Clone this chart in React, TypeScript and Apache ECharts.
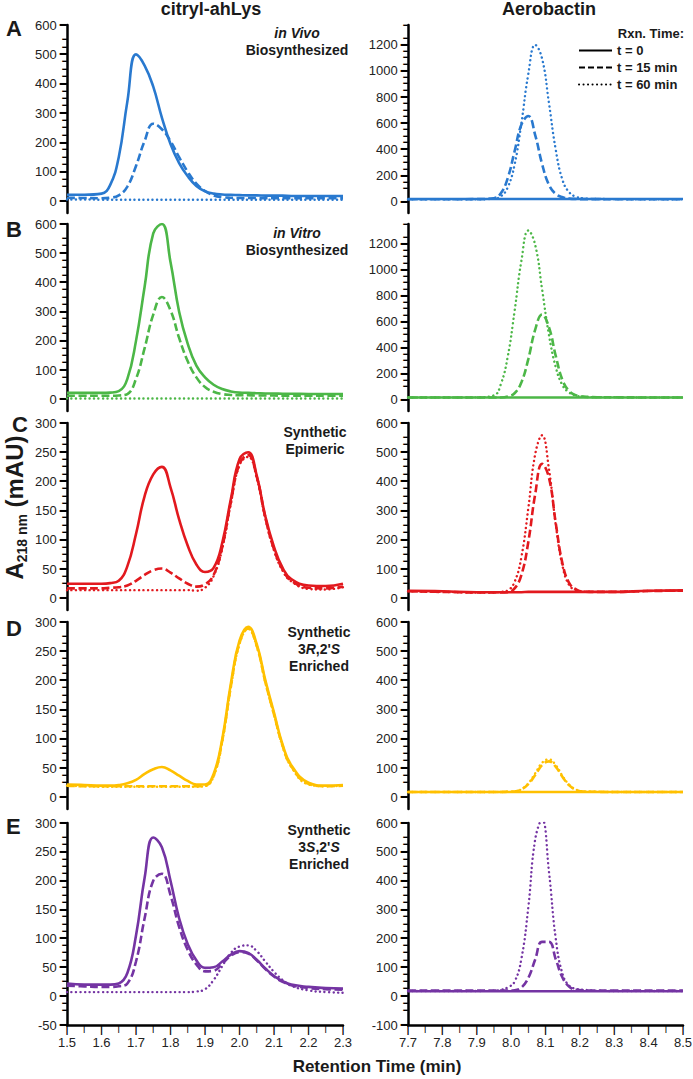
import React, { useEffect, useRef } from "react";
import * as echarts from "echarts";

// ---------- data ----------
const X_LEFT = [1.5, 1.55, 1.6, 1.625, 1.65, 1.675, 1.7, 1.725, 1.75, 1.775, 1.8, 1.825, 1.85, 1.875, 1.9, 1.925, 1.95, 1.975, 2.0, 2.025, 2.05, 2.075, 2.1, 2.125, 2.15, 2.2, 2.25, 2.3];
const X_RIGHT = [7.7, 7.8, 7.9, 7.95, 7.97, 7.99, 8.01, 8.03, 8.05, 8.07, 8.09, 8.11, 8.13, 8.15, 8.17, 8.19, 8.21, 8.25, 8.3, 8.4, 8.5];

// citryl-ahLys (left column)
const A_CIT_T0 = [22, 22, 26, 55, 150, 340, 500, 462, 390, 285, 195, 130, 85, 52, 34, 26, 23, 22, 21, 20, 20, 19, 19, 19, 18, 18, 18, 18];
const A_CIT_T15 = [12, 11, 10, 12, 20, 50, 120, 205, 264, 245, 205, 150, 100, 60, 35, 20, 14, 12, 11, 11, 11, 10, 10, 10, 10, 10, 10, 10];
const A_CIT_T60 = [6, 6, 5, 5, 5, 5, 5, 5, 5, 5, 5, 5, 5, 5, 5, 5, 5, 5, 5, 5, 5, 5, 5, 5, 5, 5, 5, 5];
const B_CIT_T0 = [22, 22, 22, 23, 28, 70, 200, 385, 568, 600, 470, 300, 190, 115, 75, 50, 35, 27, 23, 22, 21, 20, 20, 19, 19, 18, 18, 18];
const B_CIT_T15 = [12, 12, 12, 12, 13, 18, 70, 175, 290, 350, 305, 210, 130, 75, 42, 26, 18, 15, 14, 14, 13, 13, 13, 12, 12, 12, 12, 12];
const B_CIT_T60 = [3, 3, 3, 3, 3, 3, 3, 3, 3, 3, 3, 3, 3, 3, 3, 3, 3, 3, 3, 3, 3, 3, 3, 3, 3, 3, 3, 3];
const C_CIT_T0 = [25, 25, 25, 26, 30, 55, 110, 175, 212, 225, 190, 135, 90, 58, 45, 52, 95, 170, 238, 250, 210, 140, 88, 52, 33, 22, 21, 25];
const C_CIT_T15 = [17, 17, 17, 18, 19, 22, 30, 40, 48, 51, 44, 34, 25, 20, 24, 40, 88, 165, 230, 245, 208, 138, 84, 49, 30, 18, 17, 20];
const C_CIT_T60 = [14, 14, 14, 14, 14, 14, 14, 14, 14, 14, 14, 14, 14, 13, 18, 38, 85, 162, 228, 242, 206, 136, 82, 47, 29, 16, 15, 19];
const D_CIT_T0 = [22, 21, 20, 20, 21, 24, 30, 40, 48, 52, 46, 37, 28, 22, 22, 40, 100, 195, 268, 292, 262, 200, 145, 90, 55, 25, 20, 21];
const D_CIT_T15 = [20, 19, 19, 19, 19, 19, 19, 19, 19, 19, 19, 19, 19, 19, 20, 37, 97, 190, 264, 289, 259, 197, 142, 88, 53, 23, 19, 20];
const D_CIT_T60 = [20, 19, 18, 18, 18, 18, 18, 18, 18, 18, 18, 18, 18, 18, 19, 36, 95, 188, 262, 288, 258, 196, 141, 87, 52, 22, 19, 20];
const E_CIT_T0 = [22, 20, 20, 20, 22, 40, 105, 205, 275, 258, 200, 135, 90, 62, 49, 50, 60, 72, 78, 75, 63, 48, 35, 26, 20, 16, 14, 13];
const E_CIT_T15 = [18, 17, 16, 16, 17, 22, 60, 135, 200, 212, 175, 120, 80, 55, 43, 44, 56, 70, 76, 74, 62, 47, 34, 25, 19, 14, 12, 11];
const E_CIT_T60 = [7, 7, 7, 7, 7, 7, 7, 7, 7, 7, 7, 7, 7, 8, 12, 28, 52, 75, 86, 88, 78, 60, 42, 28, 18, 10, 7, 6];

// Aerobactin (right column)
const A_AER_T0 = [22, 22, 22, 22, 22, 22, 22, 22, 22, 22, 22, 22, 22, 22, 22, 22, 22, 22, 22, 22, 22];
const A_AER_T15 = [20, 20, 21, 28, 65, 180, 385, 590, 655, 510, 290, 130, 60, 35, 25, 22, 21, 21, 20, 20, 20];
const A_AER_T60 = [20, 20, 20, 24, 42, 110, 284, 602, 976, 1198, 1094, 755, 395, 163, 70, 38, 27, 22, 21, 20, 20];
const B_AER_T0 = [19, 19, 19, 19, 19, 19, 19, 19, 19, 19, 19, 19, 19, 19, 19, 19, 19, 19, 19, 19, 19];
const B_AER_T15 = [19, 19, 19, 19, 19, 26, 51, 135, 313, 539, 655, 558, 336, 148, 65, 35, 25, 21, 20, 19, 19];
const B_AER_T60 = [19, 19, 20, 35, 120, 330, 680, 1070, 1300, 1190, 850, 500, 250, 110, 55, 32, 24, 21, 20, 19, 19];
const C_AER_T0 = [26, 24, 21, 21, 21, 21, 21, 21, 22, 22, 22, 22, 22, 22, 22, 22, 22, 22, 22, 26, 27];
const C_AER_T15 = [24, 22, 20, 20, 20, 21, 34, 80, 193, 356, 460, 413, 256, 116, 50, 30, 23, 22, 22, 25, 26];
const C_AER_T60 = [24, 22, 20, 20, 22, 27, 56, 142, 308, 493, 558, 443, 251, 108, 43, 28, 23, 22, 22, 25, 26];
const D_AER_T0 = [18, 18, 18, 18, 18, 18, 18, 18, 18, 18, 18, 18, 18, 18, 18, 18, 18, 18, 18, 18, 18];
const D_AER_T15 = [18, 18, 18, 18, 18, 19, 20, 27, 45, 76, 110, 123, 104, 69, 40, 25, 20, 19, 18, 18, 18];
const D_AER_T60 = [18, 18, 18, 18, 18, 19, 20, 28, 48, 82, 118, 130, 110, 72, 42, 26, 20, 19, 18, 18, 18];
const E_AER_T0 = [17, 17, 17, 17, 17, 17, 17, 17, 17, 17, 17, 17, 17, 17, 17, 17, 17, 17, 17, 17, 17];
const E_AER_T15 = [19, 19, 19, 19, 19, 19, 20, 30, 63, 127, 188, 188, 127, 63, 32, 22, 20, 19, 19, 19, 19];
const E_AER_T60 = [18, 18, 18, 19, 22, 30, 50, 130, 308, 543, 612, 432, 198, 75, 35, 25, 22, 19, 18, 18, 18];

// tick labels
const TICKS_0_600 = [0, 100, 200, 300, 400, 500, 600];
const TICKS_0_300 = [0, 50, 100, 150, 200, 250, 300];
const TICKS_N50_300 = [-50, 0, 50, 100, 150, 200, 250, 300];
const TICKS_0_1200 = [0, 200, 400, 600, 800, 1000, 1200];
const TICKS_N100_600 = [-100, 0, 100, 200, 300, 400, 500, 600];

const LEGEND_NAMES = ["t = 0", "t = 15 min", "t = 60 min"];

// ---------- styling / layout ----------
const FONT = "'Liberation Sans', Arial, Helvetica, sans-serif";
const NARROW = "'Liberation Sans Narrow', 'Liberation Sans', Arial, sans-serif";
const GLYPH_FONT = "'DejaVu Sans', 'Liberation Sans', sans-serif";
const INK = "#1a1a1a";
const BLUE = "#2979CF";
const GREEN = "#4CB747";
const RED = "#E2191E";
const GOLD = "#FFC000";
const PURPLE = "#7434A3";

const ROW_TOP = [25, 224, 423, 622, 823];
const ROW_H = [188, 187, 187, 187, 202];
const COL_LEFT = [67, 408];
const COL_W = [276, 275];
const X_RANGE = [
  [1.5, 2.3],
  [7.7, 8.5],
];

const PANELS = [
  { row: 0, col: 0, color: BLUE, t0: A_CIT_T0, t15: A_CIT_T15, t60: A_CIT_T60, yMin: -40, yMax: 600, ticks: TICKS_0_600 },
  { row: 0, col: 1, color: BLUE, t0: A_AER_T0, t15: A_AER_T15, t60: A_AER_T60, yMin: -85, yMax: 1350, ticks: TICKS_0_1200 },
  { row: 1, col: 0, color: GREEN, t0: B_CIT_T0, t15: B_CIT_T15, t60: B_CIT_T60, yMin: -40, yMax: 600, ticks: TICKS_0_600 },
  { row: 1, col: 1, color: GREEN, t0: B_AER_T0, t15: B_AER_T15, t60: B_AER_T60, yMin: -85, yMax: 1350, ticks: TICKS_0_1200 },
  { row: 2, col: 0, color: RED, t0: C_CIT_T0, t15: C_CIT_T15, t60: C_CIT_T60, yMin: -20, yMax: 300, ticks: TICKS_0_300 },
  { row: 2, col: 1, color: RED, t0: C_AER_T0, t15: C_AER_T15, t60: C_AER_T60, yMin: -40, yMax: 600, ticks: TICKS_0_600 },
  { row: 3, col: 0, color: GOLD, t0: D_CIT_T0, t15: D_CIT_T15, t60: D_CIT_T60, yMin: -20, yMax: 300, ticks: TICKS_0_300 },
  { row: 3, col: 1, color: GOLD, t0: D_AER_T0, t15: D_AER_T15, t60: D_AER_T60, yMin: -40, yMax: 600, ticks: TICKS_0_600 },
  { row: 4, col: 0, color: PURPLE, t0: E_CIT_T0, t15: E_CIT_T15, t60: E_CIT_T60, yMin: -50, yMax: 300, ticks: TICKS_N50_300 },
  { row: 4, col: 1, color: PURPLE, t0: E_AER_T0, t15: E_AER_T15, t60: E_AER_T60, yMin: -100, yMax: 600, ticks: TICKS_N100_600 },
];

const LINE_STYLES: any[] = [
  { type: "solid", width: 2.6, cap: "butt" },
  { type: [8, 3.5], width: 2.6, cap: "butt" },
  { type: [0.1, 4.4], width: 2.4, cap: "round" },
];

function txt(x: number, y: number, text: string, font: string, align: string, valign: string) {
  return {
    type: "text",
    x,
    y,
    silent: true,
    style: { text, font, fill: INK, textAlign: align, textVerticalAlign: valign },
  };
}

function annotation(x: number, y: number, text: string) {
  const base = { fontSize: 14, fontWeight: "bold", fontFamily: FONT, lineHeight: 17, fill: INK };
  return {
    type: "text",
    x,
    y,
    silent: true,
    style: {
      text,
      fill: INK,
      font: `bold 14px ${FONT}`,
      textAlign: "center",
      textVerticalAlign: "top",
      rich: { b: { ...base }, bi: { ...base, fontStyle: "italic" } },
    },
  };
}

const TEXT_ELEMENTS: any[] = [
  txt(211, 9, "citryl-ahLys", `bold 18px ${FONT}`, "center", "middle"),
  txt(549, 9, "Aerobactin", `bold 18px ${FONT}`, "center", "middle"),
  txt(6, 28, "A", `bold 22px ${FONT}`, "left", "middle"),
  txt(6, 229, "B", `bold 22px ${FONT}`, "left", "middle"),
  txt(12, 424, "C", `bold 22px ${FONT}`, "left", "middle"),
  txt(6, 628, "D", `bold 22px ${FONT}`, "left", "middle"),
  txt(6, 826, "E", `bold 22px ${FONT}`, "left", "middle"),
  txt(684, 33, "Rxn. Time:", `bold 13px ${FONT}`, "right", "middle"),
  txt(377, 1066, "Retention Time (min)", `bold 17px ${FONT}`, "center", "middle"),
  annotation(297, 24, "{bi|in Vivo}\n{b|Biosynthesized}"),
  annotation(297, 224, "{bi|in Vitro}\n{b|Biosynthesized}"),
  annotation(315, 423, "{b|Synthetic}\n{b|Epimeric}"),
  annotation(319, 623, "{b|Synthetic}\n{b|3}{bi|R}{b|,2'}{bi|S}\n{b|Enriched}"),
  annotation(319, 821, "{b|Synthetic}\n{b|3}{bi|S}{b|,2'}{bi|S}\n{b|Enriched}"),
];

const HIDDEN_AXIS = { show: false, min: 0, max: 1 };
const BARE = {
  axisLine: { show: false, onZero: false },
  axisTick: { show: false },
  axisLabel: { show: false },
  splitLine: { show: false },
  minorTick: { show: false },
  minorSplitLine: { show: false },
};

// tick marks drawn as glyphs inside the axis labels
const Y_TICK_RICH = {
  n: { fontSize: 13, fontFamily: FONT, color: "#222" },
  sp: { width: 3 },
  t: { fontSize: 12, fontFamily: GLYPH_FONT, color: "#000" },
  m: { fontSize: 8, fontFamily: GLYPH_FONT, color: "#000" },
};
const X_TICK_RICH = {
  t: { fontSize: 9, fontWeight: "bold", fontFamily: FONT, color: "#000", lineHeight: 9 },
  m: { fontSize: 6.5, fontWeight: "bold", fontFamily: FONT, color: "#000", lineHeight: 7 },
};

function buildOption(): any {
  const grid: any[] = [];
  const xAxis: any[] = [];
  const yAxis: any[] = [];
  const series: any[] = [];
  const dataGrid: number[] = [];

  const addGrid = (g: any, xa: any, ya: any) => {
    const gi = grid.length;
    grid.push({ outerBoundsMode: "none", ...g });
    xAxis.push({ type: "value", gridIndex: gi, ...xa });
    yAxis.push({ type: "value", gridIndex: gi, ...ya });
    return gi;
  };

  PANELS.forEach((p) => {
    const isBottom = p.row === 4;
    const isC = p.row === 2 && p.col === 0;
    const left = COL_LEFT[p.col];
    const top = ROW_TOP[p.row];
    const width = COL_W[p.col];
    const height = ROW_H[p.row];
    const [x0, x1] = X_RANGE[p.col];

    const gi = addGrid(
      { left, top, width, height },
      {
        min: x0,
        max: x1,
        interval: 0.1,
        show: isBottom,
        ...BARE,
        axisLine: { show: true, onZero: false, lineStyle: { color: "#000", width: 2.5 } },
        axisLabel: { formatter: (v: number) => v.toFixed(1), fontSize: 13, fontFamily: NARROW, color: "#222", margin: 11 },
      },
      {
        min: p.yMin,
        max: p.yMax,
        ...BARE,
        axisLine: { show: true, onZero: false, lineStyle: { color: "#000", width: 2.5 } },
        ...(isC
          ? {
              name: "{a|A}{s|218 nm}{a| (mAU)}",
              nameLocation: "middle",
              nameRotate: 90,
              nameGap: 38,
              nameMoveOverlap: false,
              nameTextStyle: {
                padding: [0, 0, 0, 18],
                rich: {
                  a: { fontSize: 24, fontWeight: "bold", fontFamily: FONT, color: INK, lineHeight: 30 },
                  s: { fontSize: 14, fontWeight: "bold", fontFamily: FONT, color: INK, lineHeight: 12, verticalAlign: "bottom" },
                },
              },
            }
          : {}),
      }
    );
    dataGrid.push(gi);

    const xs = p.col === 0 ? X_LEFT : X_RIGHT;
    [p.t0, p.t15, p.t60].forEach((vals, k) => {
      const ls = LINE_STYLES[k];
      series.push({
        name: `${"ABCDE"[p.row]}-${p.col === 0 ? "citryl-ahLys" : "Aerobactin"}-${LEGEND_NAMES[k]}`,
        type: "line",
        xAxisIndex: gi,
        yAxisIndex: gi,
        data: xs.map((x, j) => [x, vals[j]]),
        symbol: "none",
        showSymbol: false,
        smooth: 0.45,
        silent: true,
        z: 3 - k,
        lineStyle: { color: p.color, width: ls.width, type: ls.type, cap: ls.cap },
        itemStyle: { color: p.color },
      });
    });

    // labelled part of the y axis (ticks[0]..yMax, same pixel scale); labels carry the tick marks
    const lo = p.ticks[0];
    const hLab = (height * (p.yMax - lo)) / (p.yMax - p.yMin);
    const minor = (p.ticks[1] - p.ticks[0]) / 4;
    addGrid({ left, top, width, height: hLab }, HIDDEN_AXIS, {
      min: lo,
      max: p.yMax,
      interval: minor,
      ...BARE,
      axisLabel: {
        show: true,
        margin: 0,
        showMinLabel: true,
        showMaxLabel: true,
        hideOverlap: false,
        formatter: (v: number) => {
          const r = Math.round(v * 100) / 100;
          return p.ticks.indexOf(r) >= 0 ? `{n|${r}}{sp|}{t|━}` : "{m|━}";
        },
        fontSize: 13,
        fontFamily: FONT,
        color: "#222",
        rich: Y_TICK_RICH,
      },
    });

    if (isBottom) {
      addGrid(
        { left, top, width, height },
        {
          min: x0,
          max: x1,
          interval: 0.05,
          ...BARE,
          axisLabel: {
            show: true,
            margin: 0,
            showMinLabel: true,
            showMaxLabel: true,
            hideOverlap: false,
            formatter: (v: number) => (Math.round(v * 100) % 10 === 0 ? "{t||}" : "{m||}"),
            rich: X_TICK_RICH,
          },
        },
        HIDDEN_AXIS
      );
    }
  });

  // legend series (black samples)
  LEGEND_NAMES.forEach((name, k) => {
    const ls = LINE_STYLES[k];
    series.push({
      name,
      type: "line",
      xAxisIndex: dataGrid[1],
      yAxisIndex: dataGrid[1],
      data: [],
      symbol: "none",
      color: "#000",
      lineStyle: { color: "#000", width: k === 2 ? 2.2 : 3, type: k === 1 ? [6, 3] : ls.type, cap: ls.cap },
      itemStyle: { color: "#000" },
    });
  });

  return {
    animation: false,
    backgroundColor: "#fff",
    textStyle: { fontFamily: FONT },
    grid,
    xAxis,
    yAxis,
    series,
    legend: {
      data: LEGEND_NAMES,
      orient: "vertical",
      left: 578,
      top: 44,
      padding: 0,
      itemWidth: 33,
      itemHeight: 12,
      itemGap: 4,
      selectedMode: false,
      itemStyle: { opacity: 0 },
      textStyle: { fontSize: 13, fontWeight: "bold", color: INK, fontFamily: FONT },
    },
    graphic: { elements: TEXT_ELEMENTS },
  };
}

export default function App() {
  const ref = useRef<HTMLDivElement>(null);
  useEffect(() => {
    if (!ref.current) return;
    const chart = echarts.init(ref.current, null, { renderer: "svg" });
    chart.setOption(buildOption());
    return () => chart.dispose();
  }, []);
  return (
    <div ref={ref} style={{ position: "fixed", left: 0, top: 0, width: 693, height: 1079, background: "#fff" }} />
  );
}
